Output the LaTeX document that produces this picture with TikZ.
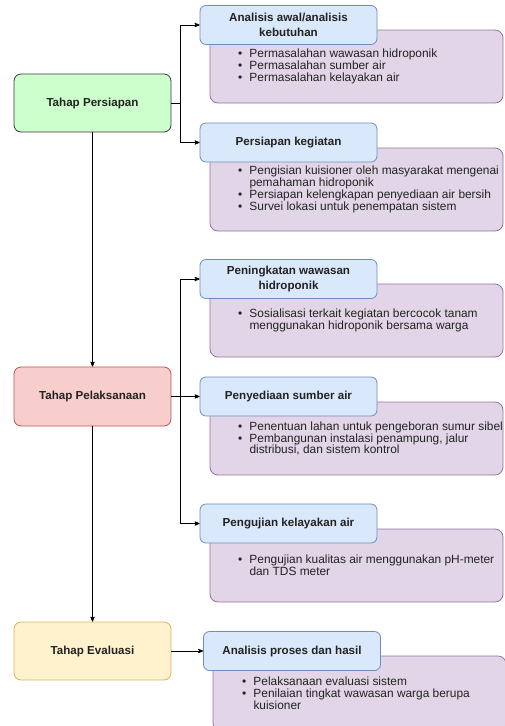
\documentclass[tikz,border=0pt]{standalone}
\usepackage{fontspec}
\setmainfont{Liberation Sans}
\usetikzlibrary{arrows}

\definecolor{greenfill}{HTML}{CCFFCC}
\definecolor{greenline}{HTML}{36393D}
\definecolor{redfill}{HTML}{F8CECC}
\definecolor{redline}{HTML}{B85450}
\definecolor{yellowfill}{HTML}{FFF2CC}
\definecolor{yellowline}{HTML}{D6B656}
\definecolor{bluefill}{HTML}{DAE8FC}
\definecolor{blueline}{HTML}{6C8EBF}
\definecolor{purplefill}{HTML}{E1D5E7}
\definecolor{purpleline}{HTML}{9673A6}
\definecolor{txt}{HTML}{222222}

\newcommand{\fs}{\fontsize{11.9}{11.9}\selectfont}
\newcommand{\fst}{\fontsize{11.6}{14.5}\selectfont}
\newcommand{\bul}{\makebox[11.5pt][l]{\textbullet}}
\newcommand{\ind}{\hspace*{11.5pt}}

\begin{document}
\begin{tikzpicture}[x=1pt,y=-1pt,>=stealth',line width=0.8pt,text=txt,
  phase node/.style={draw,rounded corners=7pt,minimum width=157pt,minimum height=58pt,font=\bfseries\fst},
  title node/.style={draw=blueline,fill=bluefill,rounded corners=6pt,minimum width=177pt,minimum height=39pt,align=center,font=\bfseries\fst},
  detail node/.style={draw=purpleline,fill=purplefill,rounded corners=8pt,minimum width=293pt,minimum height=73pt},
  item text/.style={anchor=west,inner sep=0pt,align=left,font=\fs}]

    \useasboundingbox (0,0) rectangle (505,726);

    % tahapan
    \node[phase node,draw=greenline,fill=greenfill] (pers) at (92.5,103) {Tahap Persiapan};
    \node[phase node,draw=redline,fill=redfill,minimum height=59pt] (pel) at (92.5,396.5) {Tahap Pelaksanaan};
    \node[phase node,draw=yellowline,fill=yellowfill] (eva) at (92.5,651) {Tahap Evaluasi};

    % rincian kegiatan
    \node[detail node] (d1) at (356.5,66.5) {};
    \node[detail node,minimum height=83pt] (d2) at (356.5,189.5) {};
    \node[detail node] (d3) at (356.5,320.5) {};
    \node[detail node] (d4) at (356.5,438.5) {};
    \node[detail node] (d5) at (356.5,565.5) {};
    \node[detail node,minimum height=75pt] (d6) at (359.5,693.5) {};

    \node[title node] (k1) at (288.5,25) {Analisis awal/analisis\\kebutuhan};
    \node[title node] (k2) at (288.5,142.5) {Persiapan kegiatan};
    \node[title node] (k3) at (288.5,279) {Peningkatan wawasan\\hidroponik};
    \node[title node] (k4) at (288.5,396.5) {Penyediaan sumber air};
    \node[title node] (k5) at (288.5,523.5) {Pengujian kelayakan air};
    \node[title node] (k6) at (292,651) {Analisis proses dan hasil};

    \node[item text] (i1) at ([xshift=28pt]d1.west) {\bul Permasalahan wawasan hidroponik\\\bul Permasalahan sumber air\\\bul Permasalahan kelayakan air};
    \node[item text] (i2) at ([xshift=28pt]d2.west) {\bul Pengisian kuisioner oleh masyarakat mengenai\\\ind pemahaman hidroponik\\\bul Persiapan kelengkapan penyediaan air bersih\\\bul Survei lokasi untuk penempatan sistem};
    \node[item text] (i3) at ([xshift=28pt]d3.west) {\bul Sosialisasi terkait kegiatan bercocok tanam\\\ind menggunakan hidroponik bersama warga};
    \node[item text] (i4) at ([xshift=28pt]d4.west) {\bul Penentuan lahan untuk pengeboran sumur sibel\\\bul Pembangunan instalasi penampung, jalur\\\ind distribusi, dan sistem kontrol};
    \node[item text] (i5) at ([xshift=28pt]d5.west) {\bul Pengujian kualitas air menggunakan pH-meter\\\ind dan TDS meter};
    \node[item text] (i6) at ([xshift=29pt]d6.west) {\bul Pelaksanaan evaluasi sistem\\\bul Penilaian tingkat wawasan warga berupa\\\ind kuisioner};

    % alur
    \path (pers) edge[->] (pel);
    \path (pel) edge[->] (eva);
    \draw[->] (pers.east) -- ++(9,0) |- (k1.west);
    \draw[->] (pers.east) -- ++(9,0) |- (k2.west);
    \draw[->] (pel.east) -- (k4.west);
    \draw[->] ([xshift=9pt]pel.east) |- (k3.west);
    \draw[->] ([xshift=9pt]pel.east) |- (k5.west);
    \draw[->] (eva.east) -- (k6.west);

\end{tikzpicture}
\end{document}
